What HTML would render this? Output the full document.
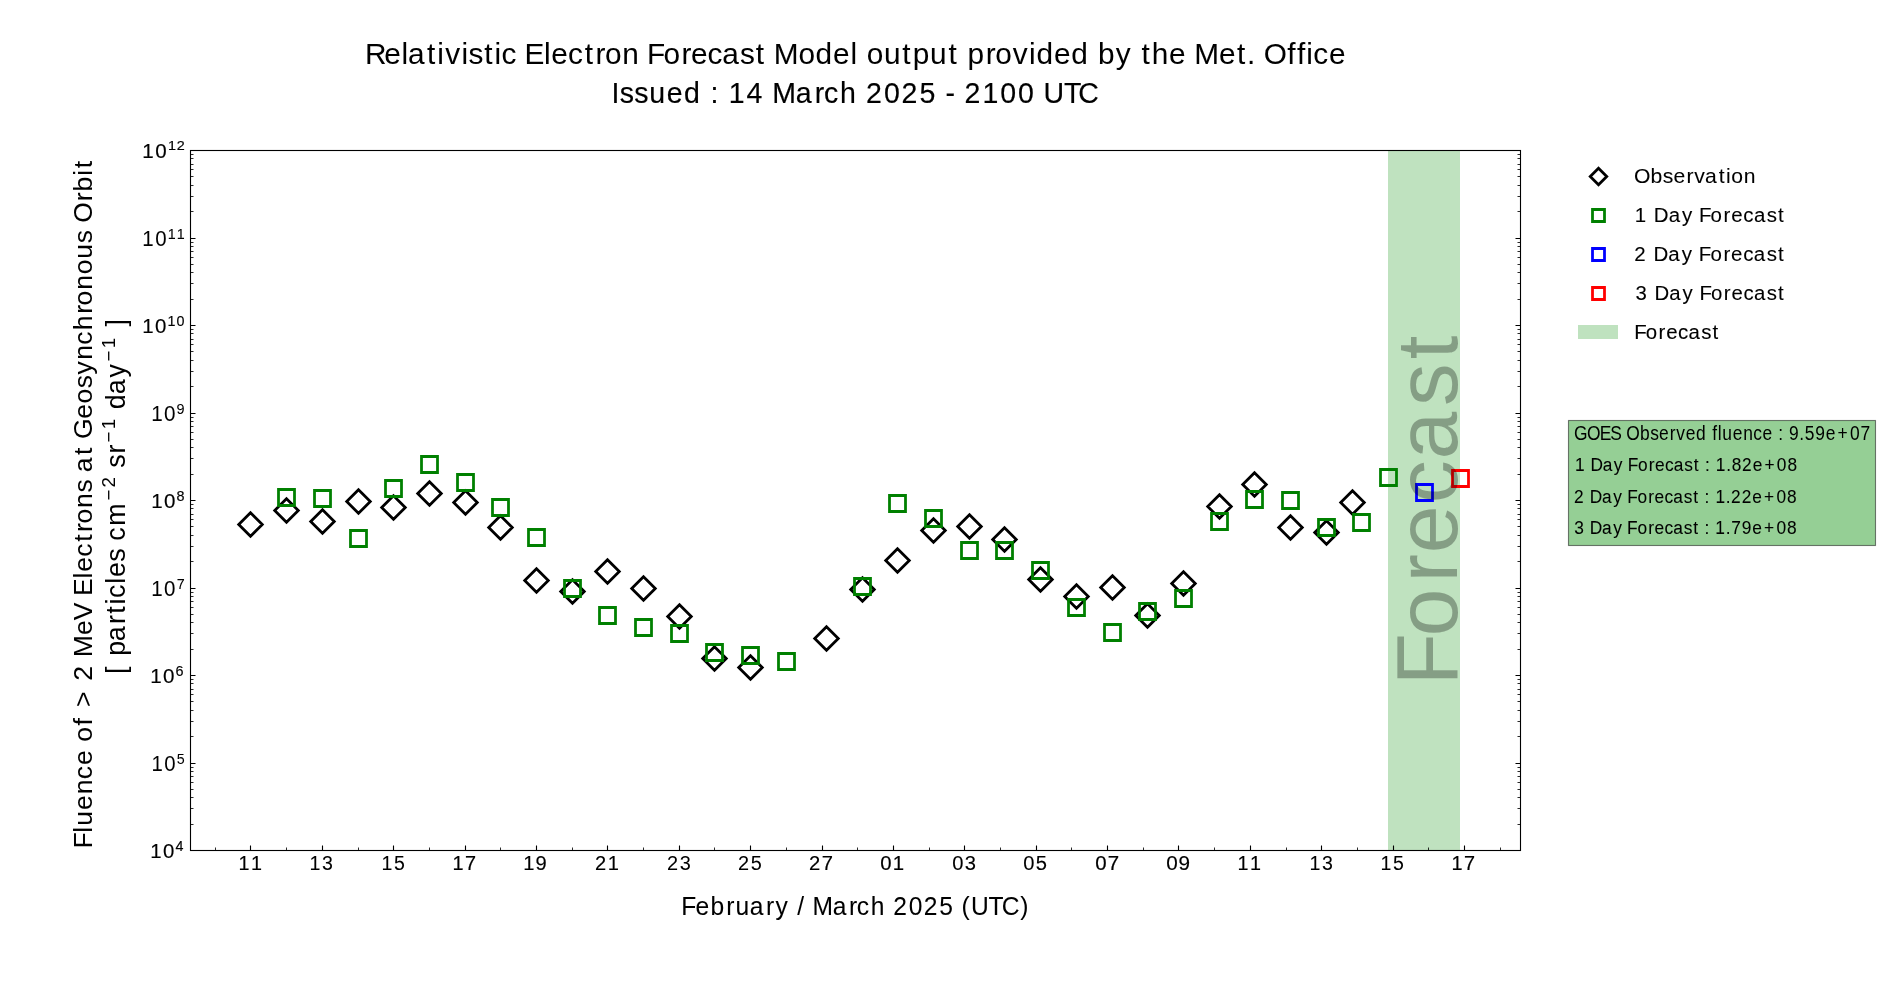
<!DOCTYPE html>
<html><head><meta charset="utf-8"><title>Relativistic Electron Forecast Model</title>
<style>
html,body{margin:0;padding:0;background:#fff;overflow:hidden}
svg{display:block;will-change:transform}
text{font-family:"Liberation Sans",sans-serif;fill:#000;white-space:pre;font-variant-ligatures:none;font-kerning:none}
</style></head><body>
<svg width="1900" height="1000" viewBox="0 0 1900 1000">
<rect x="0" y="0" width="1900" height="1000" fill="#fff"/>
<rect x="1388" y="150" width="72" height="701" fill="#bfe2bf"/>
<path fill="none" stroke="#000" stroke-width="2.78" d="M250.5 512.71L262.29 524.5L250.5 536.29L238.71 524.5ZM286.5 498.71L298.29 510.5L286.5 522.29L274.71 510.5ZM322.5 509.71L334.29 521.5L322.5 533.29L310.71 521.5ZM358.5 489.71L370.29 501.5L358.5 513.29L346.71 501.5ZM393.5 495.71L405.29 507.5L393.5 519.29L381.71 507.5ZM429.5 481.71L441.29 493.5L429.5 505.29L417.71 493.5ZM465.5 490.71L477.29 502.5L465.5 514.29L453.71 502.5ZM500.5 515.71L512.29 527.5L500.5 539.29L488.71 527.5ZM536.5 568.71L548.29 580.5L536.5 592.29L524.71 580.5ZM572.5 579.71L584.29 591.5L572.5 603.29L560.71 591.5ZM607.5 559.71L619.29 571.5L607.5 583.29L595.71 571.5ZM643.5 576.71L655.29 588.5L643.5 600.29L631.71 588.5ZM679.5 604.71L691.29 616.5L679.5 628.29L667.71 616.5ZM714.5 646.71L726.29 658.5L714.5 670.29L702.71 658.5ZM750.5 655.71L762.29 667.5L750.5 679.29L738.71 667.5ZM826.5 626.71L838.29 638.5L826.5 650.29L814.71 638.5ZM862.5 577.71L874.29 589.5L862.5 601.29L850.71 589.5ZM897.5 548.71L909.29 560.5L897.5 572.29L885.71 560.5ZM933.5 518.71L945.29 530.5L933.5 542.29L921.71 530.5ZM969.5 514.71L981.29 526.5L969.5 538.29L957.71 526.5ZM1004.5 527.71L1016.29 539.5L1004.5 551.29L992.71 539.5ZM1040.5 567.71L1052.29 579.5L1040.5 591.29L1028.71 579.5ZM1076.5 584.71L1088.29 596.5L1076.5 608.29L1064.71 596.5ZM1112.5 575.71L1124.29 587.5L1112.5 599.29L1100.71 587.5ZM1147.5 603.71L1159.29 615.5L1147.5 627.29L1135.71 615.5ZM1183.5 571.71L1195.29 583.5L1183.5 595.29L1171.71 583.5ZM1219.5 494.71L1231.29 506.5L1219.5 518.29L1207.71 506.5ZM1254.5 472.71L1266.29 484.5L1254.5 496.29L1242.71 484.5ZM1290.5 515.71L1302.29 527.5L1290.5 539.29L1278.71 527.5ZM1326.5 520.71L1338.29 532.5L1326.5 544.29L1314.71 532.5ZM1352.5 490.71L1364.29 502.5L1352.5 514.29L1340.71 502.5Z"/>
<path fill="none" stroke="#008000" stroke-width="2.78" d="M278.5 489.5h16v16h-16ZM314.5 490.5h16v16h-16ZM350.5 530.5h16v16h-16ZM385.5 480.5h16v16h-16ZM421.5 456.5h16v16h-16ZM457.5 474.5h16v16h-16ZM492.5 499.5h16v16h-16ZM528.5 529.5h16v16h-16ZM564.5 580.5h16v16h-16ZM599.5 607.5h16v16h-16ZM635.5 619.5h16v16h-16ZM671.5 625.5h16v16h-16ZM706.5 644.5h16v16h-16ZM742.5 647.5h16v16h-16ZM778.5 653.5h16v16h-16ZM854.5 578.5h16v16h-16ZM889.5 495.5h16v16h-16ZM925.5 510.5h16v16h-16ZM961.5 542.5h16v16h-16ZM996.5 542.5h16v16h-16ZM1032.5 562.5h16v16h-16ZM1068.5 599.5h16v16h-16ZM1104.5 624.5h16v16h-16ZM1139.5 603.5h16v16h-16ZM1175.5 590.5h16v16h-16ZM1211.5 513.5h16v16h-16ZM1246.5 491.5h16v16h-16ZM1282.5 492.5h16v16h-16ZM1318.5 519.5h16v16h-16ZM1353.5 514.5h16v16h-16ZM1380.5 469.5h16v16h-16Z"/>
<path fill="none" stroke="#00f" stroke-width="2.78" d="M1416.5 484.5h16v16h-16Z"/>
<path fill="none" stroke="#f00" stroke-width="2.78" d="M1452.5 470.5h16v16h-16Z"/>
<path fill="none" stroke="#000" stroke-width="1.11" d="M250.5 850.5V845.5M322.5 850.5V845.5M393.5 850.5V845.5M465.5 850.5V845.5M536.5 850.5V845.5M607.5 850.5V845.5M679.5 850.5V845.5M750.5 850.5V845.5M822.5 850.5V845.5M893.5 850.5V845.5M964.5 850.5V845.5M1036.5 850.5V845.5M1107.5 850.5V845.5M1178.5 850.5V845.5M1250.5 850.5V845.5M1321.5 850.5V845.5M1393.5 850.5V845.5M1464.5 850.5V845.5M190.5 150.5H195.5M1520.5 150.5H1515.5M190.5 238.5H195.5M1520.5 238.5H1515.5M190.5 325.5H195.5M1520.5 325.5H1515.5M190.5 413.5H195.5M1520.5 413.5H1515.5M190.5 500.5H195.5M1520.5 500.5H1515.5M190.5 588.5H195.5M1520.5 588.5H1515.5M190.5 675.5H195.5M1520.5 675.5H1515.5M190.5 763.5H195.5M1520.5 763.5H1515.5M190.5 850.5H195.5M1520.5 850.5H1515.5"/>
<path fill="none" stroke="#000" stroke-width="0.83" d="M215.5 850.5V847.5M286.5 850.5V847.5M358.5 850.5V847.5M429.5 850.5V847.5M500.5 850.5V847.5M572.5 850.5V847.5M643.5 850.5V847.5M714.5 850.5V847.5M786.5 850.5V847.5M857.5 850.5V847.5M929.5 850.5V847.5M1000.5 850.5V847.5M1071.5 850.5V847.5M1143.5 850.5V847.5M1214.5 850.5V847.5M1286.5 850.5V847.5M1357.5 850.5V847.5M1428.5 850.5V847.5M1500.5 850.5V847.5M190.5 211.5H193.5M1520.5 211.5H1517.5M190.5 196.5H193.5M1520.5 196.5H1517.5M190.5 185.5H193.5M1520.5 185.5H1517.5M190.5 176.5H193.5M1520.5 176.5H1517.5M190.5 169.5H193.5M1520.5 169.5H1517.5M190.5 164.5H193.5M1520.5 164.5H1517.5M190.5 158.5H193.5M1520.5 158.5H1517.5M190.5 154.5H193.5M1520.5 154.5H1517.5M190.5 299.5H193.5M1520.5 299.5H1517.5M190.5 283.5H193.5M1520.5 283.5H1517.5M190.5 272.5H193.5M1520.5 272.5H1517.5M190.5 264.5H193.5M1520.5 264.5H1517.5M190.5 257.5H193.5M1520.5 257.5H1517.5M190.5 251.5H193.5M1520.5 251.5H1517.5M190.5 246.5H193.5M1520.5 246.5H1517.5M190.5 242.5H193.5M1520.5 242.5H1517.5M190.5 386.5H193.5M1520.5 386.5H1517.5M190.5 371.5H193.5M1520.5 371.5H1517.5M190.5 360.5H193.5M1520.5 360.5H1517.5M190.5 351.5H193.5M1520.5 351.5H1517.5M190.5 344.5H193.5M1520.5 344.5H1517.5M190.5 339.5H193.5M1520.5 339.5H1517.5M190.5 333.5H193.5M1520.5 333.5H1517.5M190.5 329.5H193.5M1520.5 329.5H1517.5M190.5 474.5H193.5M1520.5 474.5H1517.5M190.5 458.5H193.5M1520.5 458.5H1517.5M190.5 447.5H193.5M1520.5 447.5H1517.5M190.5 439.5H193.5M1520.5 439.5H1517.5M190.5 432.5H193.5M1520.5 432.5H1517.5M190.5 426.5H193.5M1520.5 426.5H1517.5M190.5 421.5H193.5M1520.5 421.5H1517.5M190.5 417.5H193.5M1520.5 417.5H1517.5M190.5 561.5H193.5M1520.5 561.5H1517.5M190.5 546.5H193.5M1520.5 546.5H1517.5M190.5 535.5H193.5M1520.5 535.5H1517.5M190.5 526.5H193.5M1520.5 526.5H1517.5M190.5 519.5H193.5M1520.5 519.5H1517.5M190.5 514.5H193.5M1520.5 514.5H1517.5M190.5 508.5H193.5M1520.5 508.5H1517.5M190.5 504.5H193.5M1520.5 504.5H1517.5M190.5 649.5H193.5M1520.5 649.5H1517.5M190.5 633.5H193.5M1520.5 633.5H1517.5M190.5 622.5H193.5M1520.5 622.5H1517.5M190.5 614.5H193.5M1520.5 614.5H1517.5M190.5 607.5H193.5M1520.5 607.5H1517.5M190.5 601.5H193.5M1520.5 601.5H1517.5M190.5 596.5H193.5M1520.5 596.5H1517.5M190.5 592.5H193.5M1520.5 592.5H1517.5M190.5 736.5H193.5M1520.5 736.5H1517.5M190.5 721.5H193.5M1520.5 721.5H1517.5M190.5 710.5H193.5M1520.5 710.5H1517.5M190.5 701.5H193.5M1520.5 701.5H1517.5M190.5 694.5H193.5M1520.5 694.5H1517.5M190.5 689.5H193.5M1520.5 689.5H1517.5M190.5 683.5H193.5M1520.5 683.5H1517.5M190.5 679.5H193.5M1520.5 679.5H1517.5M190.5 824.5H193.5M1520.5 824.5H1517.5M190.5 808.5H193.5M1520.5 808.5H1517.5M190.5 797.5H193.5M1520.5 797.5H1517.5M190.5 789.5H193.5M1520.5 789.5H1517.5M190.5 782.5H193.5M1520.5 782.5H1517.5M190.5 776.5H193.5M1520.5 776.5H1517.5M190.5 771.5H193.5M1520.5 771.5H1517.5M190.5 767.5H193.5M1520.5 767.5H1517.5"/>
<rect x="190.5" y="150.5" width="1330" height="700" fill="none" stroke="#000" stroke-width="1.11"/>
<text transform="translate(1457.2 -3.2) rotate(-90) scale(0.9828 1)" fill-opacity="0.3" stroke="#000" stroke-width="0.01" stroke-opacity="0.3"><tspan x="-700.5 -650.75 -596.05 -565.82 -515.18 -470.52 -416.31 -368.77" y="0" font-size="86.92">Forecast</tspan></text>
<text transform="translate(0 870.26) scale(0.9638 1)" stroke="#000" stroke-width="0.17"><tspan x="247.44 260.4" y="0" font-size="20.48">11</tspan></text>
<text transform="translate(0 870.26) scale(0.9557 1)" stroke="#000" stroke-width="0.09"><tspan x="323.83 336.88" y="0" font-size="20.48">13</tspan></text>
<text transform="translate(0 870.26) scale(0.9537 1)" stroke="#000" stroke-width="0.09"><tspan x="400.04 413.09" y="0" font-size="20.48">15</tspan></text>
<text transform="translate(0 870.26) scale(0.9700 1)" stroke="#000" stroke-width="0.21"><tspan x="466.42 479.27" y="0" font-size="20.48">17</tspan></text>
<text transform="translate(0 870.26) scale(0.9843 1)" stroke="#000" stroke-width="0.16"><tspan x="531.64 544.11" y="0" font-size="20.48">19</tspan></text>
<text transform="translate(0 870.26) scale(0.9810 1)" stroke="#000" stroke-width="0.14"><tspan x="606.54 619.6" y="0" font-size="20.48">21</tspan></text>
<text transform="translate(0 870.26) scale(0.9728 1)" stroke="#000" stroke-width="0.03"><tspan x="685.66 698.81" y="0" font-size="20.48">23</tspan></text>
<text transform="translate(0 870.26) scale(0.9708 1)" stroke="#000" stroke-width="0.04"><tspan x="760.22 773.38" y="0" font-size="20.48">25</tspan></text>
<text transform="translate(0 870.26) scale(0.9870 1)" stroke="#000" stroke-width="0.18"><tspan x="819.64 832.6" y="0" font-size="20.48">27</tspan></text>
<text transform="translate(0 870.26) scale(0.9940 1)" stroke="#000" stroke-width="0.19"><tspan x="885.67 898.21" y="0" font-size="20.48">01</tspan></text>
<text transform="translate(0 870.26) scale(0.9847 1)" stroke="#000" stroke-width="0.13"><tspan x="967.09 979.74" y="0" font-size="20.48">03</tspan></text>
<text transform="translate(0 870.26) scale(0.9830 1)" stroke="#000" stroke-width="0.14"><tspan x="1041.02 1053.67" y="0" font-size="20.48">05</tspan></text>
<text transform="translate(0 870.26) scale(0.9990 1)" stroke="#000" stroke-width="0.23"><tspan x="1096.34 1108.8" y="0" font-size="20.48">07</tspan></text>
<text transform="translate(0 870.26) scale(1.0121 1)" stroke="#000" stroke-width="0.17"><tspan x="1152.22 1164.33" y="0" font-size="20.48">09</tspan></text>
<text transform="translate(0 870.26) scale(0.9638 1)" stroke="#000" stroke-width="0.17"><tspan x="1283.92 1296.88" y="0" font-size="20.48">11</tspan></text>
<text transform="translate(0 870.26) scale(0.9557 1)" stroke="#000" stroke-width="0.09"><tspan x="1370.16 1383.2" y="0" font-size="20.48">13</tspan></text>
<text transform="translate(0 870.26) scale(0.9537 1)" stroke="#000" stroke-width="0.09"><tspan x="1447.49 1460.54" y="0" font-size="20.48">15</tspan></text>
<text transform="translate(0 870.26) scale(0.9700 1)" stroke="#000" stroke-width="0.21"><tspan x="1496.32 1509.17" y="0" font-size="20.48">17</tspan></text>
<text transform="translate(0 157.75) scale(1.0554 1)" stroke="#000" stroke-width="0.2"><tspan x="134.88 147.07" y="0" font-size="19.46">10</tspan><tspan x="159.1 167.47" y="-7.66" font-size="13.62">12</tspan></text>
<text transform="translate(0 246.45) scale(0.9648 1)" stroke="#000" stroke-width="0.06"><tspan x="147.57 160.87" y="0" font-size="21.2">10</tspan><tspan x="173.99 183.23" y="-7.66" font-size="14.84">11</tspan></text>
<text transform="translate(0 333.15) scale(1.0221 1)" stroke="#000" stroke-width="0.16"><tspan x="139.25 151.69" y="0" font-size="20.02">10</tspan><tspan x="163.98 172.7" y="-7.66" font-size="14.02">10</tspan></text>
<text transform="translate(0 421.45) scale(0.9760 1)" stroke="#000" stroke-width="0.04"><tspan x="154.98 167.96" y="0" font-size="21.2">10</tspan><tspan x="180.84" y="-7.66" font-size="14.84">9</tspan></text>
<text transform="translate(0 508.15) scale(1.0262 1)" stroke="#000" stroke-width="0.17"><tspan x="147.43 159.76" y="0" font-size="20.02">10</tspan><tspan x="172.04" y="-7.66" font-size="14.02">8</tspan></text>
<text transform="translate(0 596.45) scale(0.9679 1)" stroke="#000" stroke-width="0.06"><tspan x="156.35 169.52" y="0" font-size="21.2">10</tspan><tspan x="182.59" y="-7.66" font-size="14.84">7</tspan></text>
<text transform="translate(0 683.15) scale(1.0301 1)" stroke="#000" stroke-width="0.17"><tspan x="145.87 158.13" y="0" font-size="20.02">10</tspan><tspan x="170.34" y="-7.66" font-size="14.02">6</tspan></text>
<text transform="translate(0 771.45) scale(0.9600 1)" stroke="#000" stroke-width="0.02"><tspan x="157.69 170.99" y="0" font-size="21.2">10</tspan><tspan x="184.13" y="-7.66" font-size="14.84">5</tspan></text>
<text transform="translate(0 858.15) scale(1.0180 1)" stroke="#000" stroke-width="0.16"><tspan x="147.66 160.03" y="0" font-size="20.02">10</tspan><tspan x="172.33" y="-7.66" font-size="14.02">4</tspan></text>
<text transform="translate(0.4 914.67) scale(0.9668 1)" stroke="#000" stroke-width="0.05"><tspan x="704.35 718.9 734.57 750.75 760.35 774.98 791.98 801.82 815.55 824.11 831.83 839.88 860.82 877.82 885.82 900.14 915.07 923.49 939.63 955.14 971.19 986.28 994.16 1003.81 1021.92 1035.61 1054.87" y="0" font-size="25.44">February / March 2025 (UTC)</tspan></text>
<text transform="translate(92.2 -0.8) rotate(-90) scale(1.0012 1)" stroke="#000" stroke-width="0.01"><tspan x="-848.37 -832.49 -825.57 -809.85 -794.22 -779.03 -764.85 -749.83 -741.59 -725.53 -717.77 -707.08 -688.86 -680.65 -664.99 -657.28 -635.08 -620.35 -602.95 -596.02 -578.66 -571.87 -556.91 -541.95 -532.09 -523.73 -508.1 -492.78 -479.82 -472.52 -455.38 -446.73 -439.39 -419.02 -403.72 -388.63 -374.89 -360.25 -345.06 -330.68 -314.19 -305.83 -290.2 -274.67 -259.14 -243.73 -230.76 -223.26 -201.92 -192.12 -176.41 -168.85 -160.2" y="0" font-size="26.5">Fluence of &gt; 2 MeV Electrons at Geosynchronous Orbit </tspan></text>
<text transform="translate(124.86 0) rotate(-90) scale(0.9925 1)"><tspan x="-687.3 -679.09 -669.4 -660.72 -646.07 -628.67 -618.31 -609.01 -602.63 -588.1 -581.29 -566.04 -552.87 -544.96 -529.83" y="0" font-size="27.04"> [ particles cm</tspan><tspan x="-504.41 -491.28" y="-9.57" font-size="18.93">−2</tspan><tspan x="-479.31 -471.27 -456.94" y="0" font-size="27.04"> sr</tspan><tspan x="-445.81 -432.54" y="-9.57" font-size="18.93">−1</tspan><tspan x="-420.7 -412.31 -397.36 -380.42" y="0" font-size="27.04"> day</tspan><tspan x="-364.27 -351" y="-9.57" font-size="18.93">−1</tspan><tspan x="-339.16 -328.95" y="0" font-size="27.04"> ]</tspan></text>
<text transform="translate(0.4 64.47) scale(1.0126 1)" stroke="#000" stroke-width="0.03"><tspan x="360.04 379.11 396.22 402.47 421.33 431.43 439.25 455.29 462.34 477.87 487.97 494.88 510.12 517.59 536.72 544.11 560.53 576.98 587.78 597.04 614.19 631 638.56 654.74 672.57 681.92 698.35 712.75 730.38 745.91 755.45 763.75 788.06 805 822.36 839.47 846.55 855.49 872.51 890.67 900.9 918.07 936.23 945.78 955.19 973.17 982.43 999.76 1015.8 1023.23 1040.59 1057.53 1074.58 1083.99 1101.46 1116.95 1126.89 1136.96 1154.13 1170.7 1179.01 1203.41 1221.2 1231 1239.46 1247.54 1270.86 1280.52 1289.66 1296.57 1312.12" y="0" font-size="29.44">Relativistic Electron Forecast Model output provided by the Met. Office</tspan></text>
<text transform="translate(0 103.47) scale(0.9690 1)" stroke="#000" stroke-width="0.16"><tspan x="630.99 639.63 654.59 670.08 688.14 705.85 723.33 733.22 742.13 752.06 770.48 787.8 797.06 821.25 840.88 850.29 866.82 884.08 893.77 912.42 930.31 948.85 966.29 975.7 985.78 995.47 1013.98 1032.39 1050.66 1067.99 1077 1097.93 1112.87" y="0" font-size="29.44">Issued : 14 March 2025 - 2100 UTC</tspan></text>
<path fill="none" stroke="#000" stroke-width="2.78" d="M1598.5 168.25L1606.75 176.5L1598.5 184.75L1590.25 176.5Z"/>
<path fill="none" stroke="#008000" stroke-width="2.78" d="M1592.5 209.5h12v12h-12Z"/>
<path fill="none" stroke="#00f" stroke-width="2.78" d="M1592.5 248.5h12v12h-12Z"/>
<path fill="none" stroke="#f00" stroke-width="2.78" d="M1592.5 287.5h12v12h-12Z"/>
<rect x="1578" y="325" width="40" height="14" fill="#bfe2bf"/>
<text transform="translate(0.4 183.4) scale(1.0304 1)" stroke="#000" stroke-width="0.06"><tspan x="1585.3 1601.49 1613.29 1623.66 1636.24 1643.89 1654.27 1667.56 1674.71 1679.91 1692.04" y="0" font-size="20.53">Observation</tspan></text>
<text transform="translate(0.4 222) scale(1.0180 1)" stroke="#000" stroke-width="0.09"><tspan x="1605.52 1617.5 1624.19 1638.75 1651.95 1662.84 1668.65 1679.98 1692.72 1700.27 1712.09 1722.52 1735.16 1746.24" y="0" font-size="20.11">1 Day Forecast</tspan></text>
<text transform="translate(0.4 261) scale(1.0205 1)" stroke="#000" stroke-width="0.09"><tspan x="1601.09 1613.23 1619.91 1634.46 1647.65 1658.54 1664.34 1675.66 1688.39 1695.94 1707.75 1718.17 1730.8 1741.87" y="0" font-size="20.11">2 Day Forecast</tspan></text>
<text transform="translate(0.4 300) scale(1.0138 1)" stroke="#000" stroke-width="0.09"><tspan x="1612.95 1624.8 1631.48 1646.04 1659.23 1670.12 1675.92 1687.25 1699.99 1707.53 1719.35 1729.77 1742.4 1753.48" y="0" font-size="20.11">3 Day Forecast</tspan></text>
<text transform="translate(0.8 339.4) scale(0.9971 1)" stroke="#000" stroke-width="0.11"><tspan x="1638.24 1649.69 1662.58 1670.2 1682.14 1692.66 1705.44 1716.65" y="0" font-size="20.48">Forecast</tspan></text>
<rect x="1568.5" y="420.5" width="307" height="125" fill="#95cf95" stroke="#000" stroke-opacity="0.5" stroke-width="1.11"/>
<text transform="translate(0.4 439.9) scale(0.8774 1)"><tspan x="1793.52 1808.27 1822.71 1834.84 1847.35 1853.08 1868.82 1880.31 1890.39 1902.63 1910.07 1920.96 1932.62 1944.24 1951.06 1957.32 1962.58 1974.45 1986.25 1997.73 2008.43 2019.73 2026.17 2032.1 2038.54 2050.35 2056.54 2068.58 2080.49 2093.91 2108.11 2120.08" y="0" font-size="19.85">GOES Observed fluence : 9.59e+07</tspan></text>
<text transform="translate(0.4 471.08) scale(0.9785 1)" stroke="#000" stroke-width="0.07"><tspan x="1609.12 1619.51 1625.06 1637.56 1648.88 1658.32 1663.14 1673.7 1684.66 1691.07 1701.2 1710.11 1720.96 1730.49 1736.3 1742.09 1747.38 1753.15 1763.76 1769.39 1779.93 1790.78 1802.8 1815.52 1826.29" y="0" font-size="17.67">1 Day Forecast : 1.82e+08</tspan></text>
<text transform="translate(0 502.66) scale(0.9781 1)" stroke="#000" stroke-width="0.06"><tspan x="1609.32 1619.86 1625.44 1637.96 1649.3 1658.75 1663.6 1674.18 1685.16 1691.59 1701.74 1710.67 1721.54 1731.09 1736.91 1742.72 1748.02 1753.81 1764.43 1769.85 1780.65 1791.52 1803.57 1816.32 1827.11" y="0" font-size="17.67">2 Day Forecast : 1.22e+08</tspan></text>
<text transform="translate(0 534.24) scale(0.9825 1)" stroke="#000" stroke-width="0.07"><tspan x="1602.3 1612.57 1618.09 1630.57 1641.87 1651.29 1656.1 1666.64 1677.57 1683.97 1694.08 1702.97 1713.8 1723.31 1729.12 1734.89 1740.18 1745.92 1756.51 1762.08 1772.82 1783.47 1795.47 1808.17 1818.91" y="0" font-size="17.67">3 Day Forecast : 1.79e+08</tspan></text>
</svg>
</body></html>
